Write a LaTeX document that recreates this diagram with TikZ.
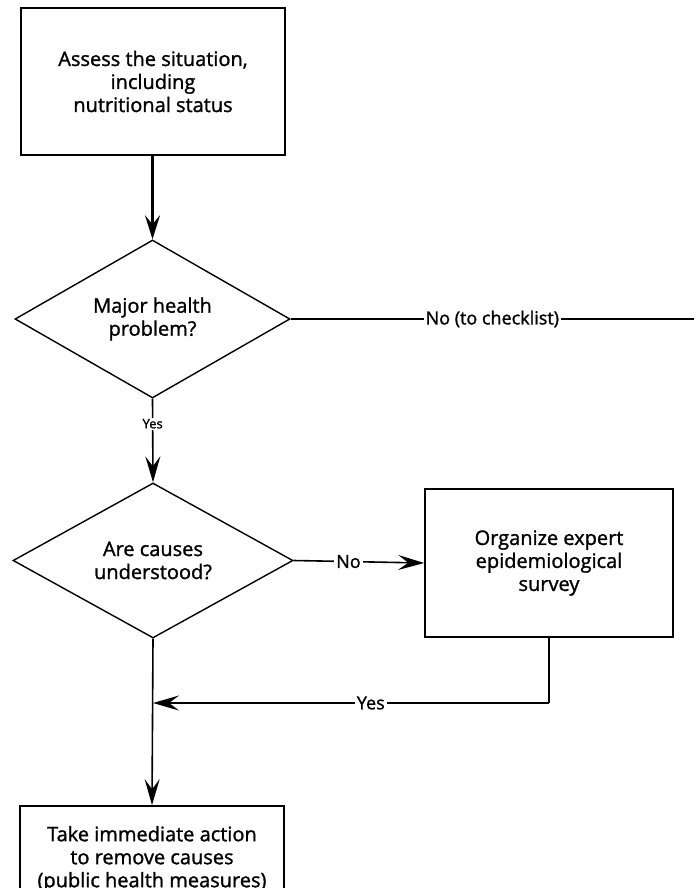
\documentclass[tikz,border=0pt]{standalone}
\usepackage{fontspec}
\setmainfont{Open Sans}[RawFeature={embolden=1.3}]
\usetikzlibrary{shapes.geometric,arrows.meta}
\tikzset{
  procbox/.style={draw, line width=1.7pt, align=center, inner sep=2pt, font=\fontsize{20}{23}\selectfont},
  decision/.style={draw, diamond, line width=1.4pt, align=center, inner sep=0pt, shape aspect=1.74, font=\fontsize{20}{23}\selectfont},
  conn/.style={line width=1.6pt, -{Stealth[length=26pt,width=15pt,inset=10pt]}},
  plainconn/.style={line width=1.5pt},
  thickconn/.style={line width=3pt, -{Stealth[length=24pt,width=15pt,inset=9pt]}},
  lbl/.style={fill=white, inner sep=2pt, font=\fontsize{18}{20}\selectfont},
  smalllbl/.style={fill=white, inner sep=1.5pt, font=\fontsize{13}{15}\selectfont}
}
\begin{document}
\begin{tikzpicture}[x=1pt,y=-1pt]
\useasboundingbox (0,0) rectangle (694,888);
\clip (0,0) rectangle (694,888);
\fill[white] (0,0) rectangle (694,888);

\node[procbox, minimum width=264pt, minimum height=147pt] (assess) at (153,81.5)
  {Assess the situation,\\including\\nutritional status};
\node[decision, minimum width=275pt, minimum height=158pt] (major) at (152.5,319)
  {Major health\\problem?};
\node[decision, minimum width=280pt, minimum height=155pt] (causes) at (153,560.5)
  {Are causes\\understood?};
\node[procbox, minimum width=248pt, minimum height=148pt] (survey) at (549,563)
  {Organize expert\\epidemiological\\survey};
\node[procbox, minimum width=264pt, minimum height=106pt] (action) at (152,859)
  {Take immediate action\\to remove causes\\(public health measures)};

\coordinate (edge) at (694,319);
\coordinate (ylevel) at (0,703);
\coordinate (corner) at (survey.south |- ylevel);
\coordinate (join) at (causes.south |- ylevel);

\draw[thickconn] (assess.south -| major.north) -- (major.north);
\draw[plainconn] (major.east) -- node[lbl, pos=0.5] {No (to checklist)} (edge);
\draw[conn] (major.south) -- node[smalllbl, pos=0.3] {Yes} (causes.north);
\draw[conn] (causes.east) -- node[lbl, pos=0.42] {No} (survey.west);
\draw[plainconn] (survey.south) -- (corner);
\draw[conn] (corner) -- node[lbl, pos=0.45] {Yes} (join);
\draw[conn] (causes.south) -- (action.north);
\end{tikzpicture}
\end{document}
